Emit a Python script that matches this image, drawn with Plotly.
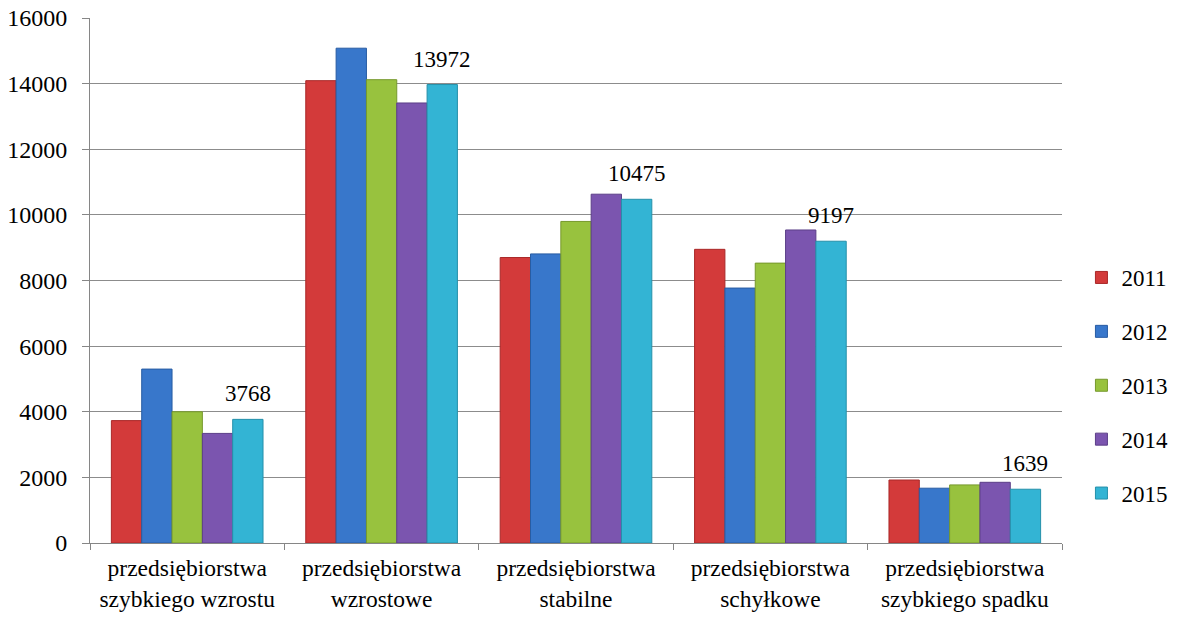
import plotly.graph_objects as go

categories = ["przedsiębiorstwa<br>szybkiego wzrostu", "przedsiębiorstwa<br>wzrostowe",
              "przedsiębiorstwa<br>stabilne", "przedsiębiorstwa<br>schyłkowe",
              "przedsiębiorstwa<br>szybkiego spadku"]
years = ["2011", "2012", "2013", "2014", "2015"]
v2011 = [3730, 14090, 8700, 8950, 1920]
v2012 = [5300, 15080, 8810, 7770, 1670]
v2013 = [4000, 14120, 9800, 8530, 1770]
v2014 = [3340, 13410, 10630, 9540, 1850]
v2015 = [3768, 13972, 10475, 9197, 1639]
series = [v2011, v2012, v2013, v2014, v2015]
colors = ["#D33A3A", "#3877CB", "#98C23E", "#7B55AF", "#33B4D4"]
edges = ["#A92828", "#285CA3", "#76982C", "#5C3F88", "#2590AA"]

FONT = "Liberation Serif"
W, H = 1171, 609
ML, MR, MT, MB = 82, 117, 10, 74
BARGAP = 0.22

fig = go.Figure()
for i, (y, vals) in enumerate(zip(years, series)):
    fig.add_trace(go.Bar(
        x=categories, y=vals, name=y, legendgroup=y,
        marker=dict(color=colors[i], line=dict(color=edges[i], width=1)),
    ))

# data labels for the last series (2015), placed above its bars
plot_w = W - ML - MR
bar_px = plot_w / len(categories) * (1 - BARGAP) / len(years)
shift = (len(years) - 1 - (len(years) - 1) / 2) * bar_px
for c, v in zip(categories, v2015):
    fig.add_annotation(x=c, y=v, text=str(v), showarrow=False,
                       xshift=shift, yshift=11, yanchor="bottom",
                       font=dict(family=FONT, size=23, color="black"))

fig.update_layout(
    width=W, height=H,
    margin=dict(l=ML, r=MR, t=MT, b=MB, autoexpand=False),
    paper_bgcolor="white", plot_bgcolor="white",
    barmode="group", bargap=BARGAP, bargroupgap=0.0,
    font=dict(family=FONT, size=23, color="black"),
    legend=dict(x=1.02, xanchor="left", y=0.30, yanchor="middle",
                font=dict(family=FONT, size=23), tracegroupgap=21,
                itemwidth=30),
    showlegend=True,
)
fig.update_xaxes(
    automargin=False, ticklabelstandoff=4,
    showline=True, linecolor="#868686", linewidth=1,
    ticks="outside", tickson="boundaries", ticklen=6, tickcolor="#868686",
    tickfont=dict(family=FONT, size=23.5, color="black"),
)
fig.update_yaxes(
    automargin=False, ticklabeloverflow="allow", ticklabelstandoff=10,
    range=[0, 16000], dtick=2000, tickformat="d",
    showline=True, linecolor="#868686", linewidth=1,
    ticks="outside", ticklen=7, tickcolor="#868686",
    showgrid=True, gridcolor="#8C8C8C", gridwidth=1,
    zeroline=False,
    tickfont=dict(family=FONT, size=24, color="black"),
)

fig.write_html("out.html")
